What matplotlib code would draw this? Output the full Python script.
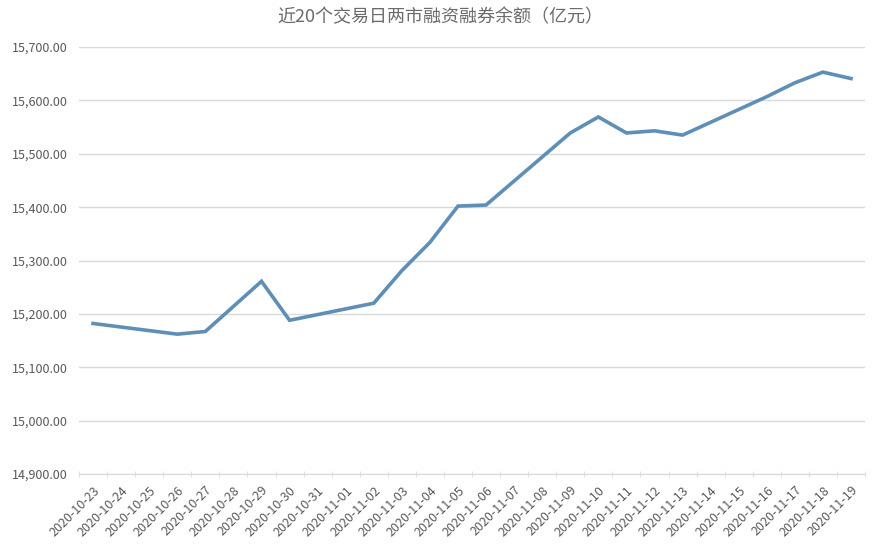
import matplotlib
matplotlib.use('Agg')
import matplotlib.pyplot as plt
import pandas as pd

plt.rcParams['font.family'] = ['Noto Sans CJK SC', 'DejaVu Sans']

# все календарные дни на оси
all_days = pd.date_range('2020-10-23', '2020-11-19').strftime('%Y-%m-%d').tolist()

# торговые дни и остаток (亿元)
trade_days = ['2020-10-23', '2020-10-26', '2020-10-27', '2020-10-28', '2020-10-29',
              '2020-10-30', '2020-11-02', '2020-11-03', '2020-11-04', '2020-11-05',
              '2020-11-06', '2020-11-09', '2020-11-10', '2020-11-11', '2020-11-12',
              '2020-11-13', '2020-11-16', '2020-11-17', '2020-11-18', '2020-11-19']
balance = [15182, 15162, 15167, 15214, 15261,
           15188, 15220, 15281, 15334, 15402,
           15404, 15539, 15569, 15539, 15543,
           15535, 15607, 15633, 15653, 15641]

x = [all_days.index(d) for d in trade_days]

fig = plt.figure(figsize=(8.8, 5.47), dpi=100)
ax = fig.add_axes([0.0898, 0.1335, 0.8932, 0.7805])

ax.plot(x, balance, color='#5f8fb6', linewidth=2.6, solid_joinstyle='miter')

ax.set_xlim(-0.5, len(all_days) - 0.5)
ax.set_ylim(14900, 15700)
ax.set_yticks(range(14900, 15701, 100))
ax.set_yticklabels(['{:,.2f}'.format(v) for v in range(14900, 15701, 100)])
ax.grid(axis='y', color='#d9d9d9', linewidth=1)
ax.set_axisbelow(True)

ax.set_xticks(range(len(all_days)))
ax.set_xticklabels(all_days, rotation=45, ha='right', rotation_mode='anchor')
ax.set_xticks([i - 0.5 for i in range(len(all_days) + 1)], minor=True)
ax.tick_params(axis='x', which='major', length=0, labelsize=9, colors='#595959', pad=7)
ax.tick_params(axis='x', which='minor', length=5, color='#d9d9d9', direction='inout')
ax.tick_params(axis='y', length=0, labelsize=9, colors='#595959', pad=8)

for s in ['top', 'right', 'left']:
    ax.spines[s].set_visible(False)
ax.spines['bottom'].set_color('#d9d9d9')

fig.suptitle('近20个交易日两市融资融券余额（亿元）', x=0.5, y=0.985,
             fontsize=13, color='#6b6b6b')

fig.savefig('out.png', dpi=100)
